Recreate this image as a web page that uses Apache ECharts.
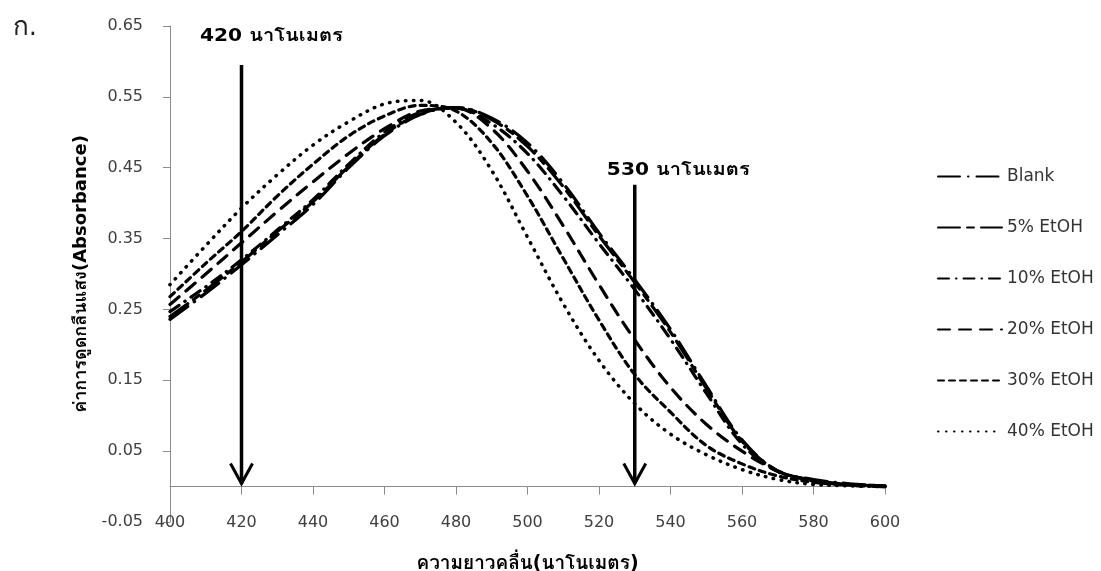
<!DOCTYPE html>
<html>
<head>
<meta charset="utf-8">
<script src="https://cdn.jsdelivr.net/npm/echarts@6/dist/echarts.min.js"></script>
<style>
html,body{margin:0;padding:0;background:#fff;}
#chart{width:1101px;height:571px;}
</style>
</head>
<body>
<div id="chart"></div>
<script>
// ---- data ----
const wavelengths = [400,410,420,430,440,450,460,470,480,490,500,510,520,530,540,550,560,570,580,590,600];
const blank   = [0.236,0.273,0.313,0.355,0.398,0.450,0.495,0.525,0.535,0.520,0.485,0.428,0.358,0.292,0.222,0.142,0.066,0.022,0.010,0.004,0.001];
const etoh5   = [0.240,0.277,0.317,0.360,0.402,0.452,0.497,0.526,0.535,0.518,0.480,0.423,0.354,0.288,0.218,0.139,0.064,0.022,0.009,0.003,0.001];
const etoh10  = [0.247,0.282,0.320,0.362,0.405,0.455,0.500,0.528,0.534,0.512,0.470,0.410,0.343,0.278,0.208,0.132,0.060,0.021,0.009,0.003,0.001];
const etoh20  = [0.257,0.300,0.344,0.388,0.430,0.470,0.505,0.530,0.534,0.505,0.445,0.368,0.285,0.207,0.140,0.088,0.050,0.022,0.008,0.002,0.000];
const etoh30  = [0.268,0.315,0.360,0.410,0.455,0.495,0.523,0.538,0.530,0.485,0.410,0.322,0.235,0.158,0.105,0.058,0.032,0.015,0.006,0.002,0.000];
const etoh40  = [0.285,0.340,0.393,0.440,0.482,0.515,0.540,0.545,0.514,0.446,0.352,0.258,0.178,0.117,0.074,0.045,0.024,0.010,0.003,0.001,0.000];
const seriesNames = ['Blank','5% EtOH','10% EtOH','20% EtOH','30% EtOH','40% EtOH'];
const xTicks = {min:400, max:600, interval:20};
const yTicks = {min:-0.05, max:0.65, interval:0.1};
// arrows: wavelength, top value, bottom value, label, label anchor (wavelength, value)
const arrowX = [420, 530];
const arrowTop = [0.595, 0.426];
const arrowBottom = [0, 0];
const arrowLabels = ['420 นาโนเมตร', '530 นาโนเมตร'];
const arrowLabelX = [408.4, 522.2];
const arrowLabelY = [0.636, 0.447];

const FONT = '"DejaVu Sans", "Garuda", "Loma", "Waree", Tahoma, "Noto Sans Thai", sans-serif';
const values = [blank, etoh5, etoh10, etoh20, etoh30, etoh40];
const dashes = [
  [22, 8, 0.5, 8],
  [22, 7, 7, 7],
  [11, 7, 0.5, 7],
  [12, 9],
  [6, 5],
  [0.5, 7.5]
];
const widths = [3.2, 3.2, 3.2, 3.2, 3.2, 3.5];

const lineSeries = seriesNames.map((name, i) => ({
  name: name,
  type: 'line',
  smooth: 0.35,
  symbol: 'none',
  showSymbol: false,
  silent: true,
  z: 3,
  lineStyle: {color: '#000', width: widths[i], type: dashes[i], cap: 'round', join: 'round'},
  itemStyle: {color: '#000'},
  data: wavelengths.map((w, j) => [w, values[i][j]])
}));

const arrowData = arrowX.map((x, i) => [x, arrowTop[i], arrowBottom[i], arrowLabelX[i], arrowLabelY[i]]);

const arrowSeries = {
  type: 'custom',
  name: 'arrows',
  silent: true,
  clip: false,
  z: 5,
  encode: {x: [0, 3], y: [1, 2, 4]},
  data: arrowData,
  renderItem: function (params, api) {
    const i = params.dataIndex;
    const top = api.coord([api.value(0), api.value(1)]);
    const bot = api.coord([api.value(0), api.value(2)]);
    const lab = api.coord([api.value(3), api.value(4)]);
    return {
      type: 'group',
      children: [
        {type: 'line', shape: {x1: top[0], y1: top[1], x2: bot[0], y2: bot[1] - 3},
         style: {stroke: '#000', lineWidth: 3.5}},
        {type: 'polyline', shape: {points: [[bot[0] - 11, bot[1] - 23], [bot[0], bot[1] - 3], [bot[0] + 11, bot[1] - 23]]},
         style: {stroke: '#000', lineWidth: 3, fill: null, lineJoin: 'miter'}},
        {type: 'text', x: lab[0], y: lab[1], scaleX: 1.12,
         style: {text: arrowLabels[i], fill: '#000', fontSize: 18, fontWeight: 'bold', fontFamily: FONT,
                 align: 'left', verticalAlign: 'middle'}}
      ]
    };
  }
};

const chart = echarts.init(document.getElementById('chart'), null, {renderer: 'canvas'});
chart.setOption({
  animation: false,
  backgroundColor: '#fff',
  textStyle: {fontFamily: FONT},
  title: {text: 'ก.', left: 8, top: 10, textStyle: {fontSize: 26, fontWeight: 'normal', color: '#222', fontFamily: FONT}},
  grid: {left: 170, right: 216, top: 26, bottom: 49, outerBoundsMode: 'none', containLabel: false},
  legend: {
    data: seriesNames,
    orient: 'vertical',
    left: 932,
    top: 163,
    itemWidth: 64,
    itemHeight: 20,
    itemGap: 34,
    selectedMode: false,
    itemStyle: {opacity: 0},
    textStyle: {fontSize: 17, color: '#333', fontFamily: FONT}
  },
  xAxis: {
    type: 'value',
    min: xTicks.min, max: xTicks.max, interval: xTicks.interval,
    name: 'ความยาวคลื่น(นาโนเมตร)',
    nameLocation: 'middle',
    nameGap: 33,
    nameTextStyle: {fontSize: 19, fontWeight: 'bold', color: '#000', fontFamily: FONT},
    axisLine: {onZero: true, lineStyle: {color: '#8c8c8c', width: 1}},
    axisTick: {show: true, length: 8, lineStyle: {color: '#8c8c8c'}},
    axisLabel: {fontSize: 16, color: '#404040', margin: -7, fontFamily: FONT},
    splitLine: {show: false}
  },
  yAxis: {
    type: 'value',
    min: yTicks.min, max: yTicks.max, interval: yTicks.interval,
    name: 'ค่าการดูดกลืนแสง(Absorbance)',
    nameLocation: 'middle',
    nameGap: 80,
    nameTextStyle: {fontSize: 18, fontWeight: 'bold', color: '#000', fontFamily: FONT},
    axisLine: {show: true, onZero: false, lineStyle: {color: '#8c8c8c', width: 1}},
    axisTick: {show: true, length: 7, lineStyle: {color: '#8c8c8c'}},
    axisLabel: {fontSize: 16, color: '#404040', margin: 27, fontFamily: FONT,
                formatter: v => Number(v).toFixed(2)},
    splitLine: {show: false}
  },
  series: lineSeries.concat([arrowSeries])
});
</script>
</body>
</html>
